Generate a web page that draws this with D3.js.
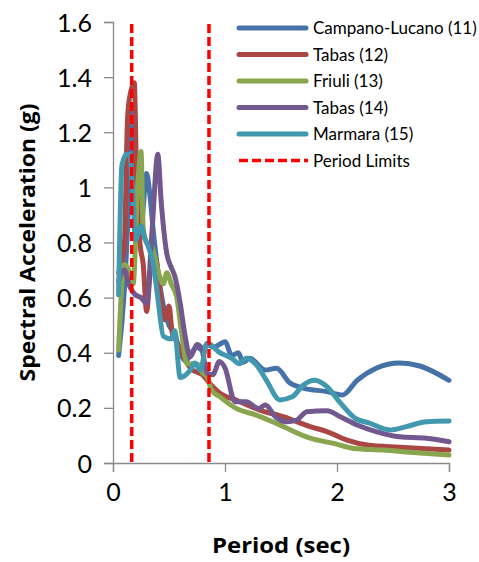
<!DOCTYPE html>
<html>
<head>
<meta charset="utf-8">
<script src="https://cdn.jsdelivr.net/npm/d3@7"></script>
<style>
  html, body { margin: 0; padding: 0; background: #fff; }
  svg { display: block; font-family: Lato, "Open Sans", sans-serif; }
</style>
</head>
<body>
<svg id="chart" width="479" height="562"></svg>
<script>
// Response spectra: [period (s), spectral acceleration (g)]
const campanoLucano11 = [[0.05,0.39],[0.1,0.62],[0.14,0.95],[0.17,1.30],[0.2,0.95],[0.23,0.80],[0.26,0.88],[0.3,1.05],[0.33,0.97],[0.36,0.84],[0.4,0.70],[0.45,0.57],[0.5,0.50],[0.55,0.47],[0.6,0.40],[0.65,0.37],[0.7,0.40],[0.75,0.42],[0.8,0.41],[0.84,0.43],[0.9,0.42],[0.95,0.43],[1.0,0.44],[1.06,0.39],[1.12,0.40],[1.16,0.365],[1.22,0.38],[1.36,0.337],[1.46,0.344],[1.58,0.29],[1.7,0.272],[1.91,0.259],[2.05,0.247],[2.18,0.30],[2.35,0.344],[2.56,0.363],[2.74,0.352],[3.0,0.30]];
const tabas12 = [[0.05,0.69],[0.1,0.78],[0.13,1.25],[0.15,1.33],[0.19,1.38],[0.21,1.05],[0.24,0.80],[0.27,0.72],[0.3,0.55],[0.34,0.72],[0.38,0.74],[0.42,0.62],[0.46,0.52],[0.5,0.57],[0.53,0.47],[0.57,0.44],[0.6,0.41],[0.65,0.37],[0.7,0.34],[0.75,0.33],[0.8,0.32],[0.85,0.295],[0.955,0.253],[1.1,0.228],[1.31,0.192],[1.52,0.168],[1.76,0.132],[1.91,0.114],[2.09,0.083],[2.27,0.065],[2.56,0.057],[3.0,0.047]];
const friuli13 = [[0.05,0.41],[0.1,0.72],[0.14,0.70],[0.18,0.65],[0.22,1.0],[0.25,1.13],[0.27,0.85],[0.3,0.80],[0.35,0.78],[0.4,0.70],[0.45,0.65],[0.48,0.69],[0.52,0.65],[0.57,0.60],[0.61,0.48],[0.66,0.36],[0.75,0.36],[0.8,0.327],[0.84,0.313],[0.88,0.265],[0.955,0.24],[1.1,0.198],[1.28,0.174],[1.49,0.138],[1.76,0.09],[1.97,0.071],[2.15,0.053],[2.41,0.047],[2.71,0.037],[3.0,0.029]];
const tabas14 = [[0.05,0.66],[0.1,0.70],[0.15,0.64],[0.2,0.61],[0.25,0.60],[0.3,0.58],[0.35,0.85],[0.4,1.12],[0.43,0.95],[0.48,0.76],[0.52,0.71],[0.55,0.68],[0.6,0.58],[0.64,0.47],[0.69,0.385],[0.75,0.43],[0.79,0.417],[0.84,0.326],[0.89,0.32],[0.95,0.368],[1.0,0.345],[1.09,0.222],[1.19,0.222],[1.3,0.198],[1.36,0.21],[1.45,0.168],[1.55,0.15],[1.64,0.156],[1.73,0.186],[1.91,0.19],[2.03,0.168],[2.18,0.138],[2.35,0.114],[2.56,0.095],[2.8,0.09],[3.0,0.077]];
const marmara15 = [[0.05,0.61],[0.08,1.08],[0.12,1.12],[0.15,1.12],[0.18,0.95],[0.2,0.81],[0.25,0.86],[0.28,0.82],[0.32,0.78],[0.36,0.72],[0.4,0.60],[0.45,0.46],[0.52,0.45],[0.55,0.48],[0.6,0.31],[0.69,0.337],[0.73,0.363],[0.78,0.337],[0.84,0.435],[0.955,0.40],[1.06,0.38],[1.13,0.36],[1.19,0.38],[1.28,0.356],[1.37,0.30],[1.49,0.229],[1.6,0.24],[1.7,0.283],[1.8,0.30],[1.91,0.277],[2.03,0.218],[2.16,0.163],[2.29,0.145],[2.47,0.12],[2.62,0.132],[2.8,0.15],[3.0,0.152]];
const periodLimits = [0.167, 0.857];

const seriesNames = ["Campano-Lucano (11)", "Tabas (12)", "Friuli (13)", "Tabas (14)", "Marmara (15)"];
const seriesData = [campanoLucano11, tabas12, friuli13, tabas14, marmara15];
const seriesColors = ["#4572A7", "#AA4643", "#89A54E", "#71588F", "#4198AF"];
const limitLabel = "Period Limits";
const xTicks = [0, 1, 2, 3];
const yTicks = [0, 0.2, 0.4, 0.6, 0.8, 1, 1.2, 1.4, 1.6];

const svg = d3.select("#chart");
const plot = { left: 113, right: 449, top: 22, bottom: 463 };

const x = d3.scaleLinear().domain([0, 3]).range([plot.left, plot.right]);
const y = d3.scaleLinear().domain([0, 1.6]).range([plot.bottom, plot.top]);

const axisColor = "#8a8a8a";

// Axes
const gx = svg.append("g")
  .attr("transform", `translate(0,${plot.bottom})`)
  .call(d3.axisBottom(x).tickValues(xTicks).tickSize(9).tickPadding(11).tickFormat(d3.format("d")));
const gy = svg.append("g")
  .attr("transform", `translate(${plot.left},0)`)
  .call(d3.axisLeft(y).tickValues(yTicks).tickSize(9).tickPadding(12).tickFormat(d => d === 0 ? "0" : d3.format("~g")(d)));

[gx, gy].forEach(g => {
  g.select(".domain").attr("stroke", axisColor).attr("stroke-width", 1.3);
  g.selectAll(".tick line").attr("stroke", axisColor).attr("stroke-width", 1.3);
  g.selectAll(".tick text")
    .attr("fill", "#000")
    .style("font-family", "Lato, sans-serif")
    .style("font-size", "25px");
});
gy.selectAll(".tick text").attr("dy", "0.36em");

// Spectra
const line = d3.line()
  .x(d => x(d[0]))
  .y(d => y(d[1]))
  .curve(d3.curveMonotoneX);

svg.append("g")
  .selectAll("path")
  .data(seriesData)
  .join("path")
  .attr("d", line)
  .attr("fill", "none")
  .attr("stroke", (d, i) => seriesColors[i])
  .attr("stroke-width", 5)
  .attr("stroke-linejoin", "round")
  .attr("stroke-linecap", "round");

// Period limit markers
svg.append("g")
  .selectAll("line")
  .data(periodLimits)
  .join("line")
  .attr("x1", d => x(d)).attr("x2", d => x(d))
  .attr("y1", y(1.6) + 2).attr("y2", y(0))
  .attr("stroke", "#FF0000")
  .attr("stroke-width", 3.5)
  .attr("stroke-dasharray", "9,4");

// Legend
const legend = svg.append("g").attr("transform", "translate(237,28)");
const rowH = 26.5;
const legendItems = seriesNames.map((n, i) => ({ name: n, color: seriesColors[i], dash: null }))
  .concat([{ name: limitLabel, color: "#FF0000", dash: "9,4" }]);

const rows = legend.selectAll("g")
  .data(legendItems)
  .join("g")
  .attr("transform", (d, i) => `translate(0,${i * rowH})`);

rows.append("line")
  .attr("x1", 2).attr("x2", d => d.dash ? 71 : 69)
  .attr("y1", 0).attr("y2", 0)
  .attr("stroke", d => d.color)
  .attr("stroke-width", d => d.dash ? 3.5 : 5)
  .attr("stroke-linecap", d => d.dash ? "butt" : "round")
  .attr("stroke-dasharray", d => d.dash);

rows.append("text")
  .attr("x", 76)
  .attr("y", 0)
  .attr("dy", "0.36em")
  .style("font-size", "17px")
  .attr("fill", "#000")
  .text(d => d.name);

// Axis titles
svg.append("text")
  .attr("x", (plot.left + plot.right) / 2)
  .attr("y", 553)
  .attr("text-anchor", "middle")
  .style("font-family", "'Open Sans', sans-serif")
  .style("font-size", "22px")
  .style("font-weight", "bold")
  .attr("textLength", 138)
  .attr("lengthAdjust", "spacingAndGlyphs")
  .text("Period (sec)");

svg.append("text")
  .attr("transform", `translate(35,${(plot.top + plot.bottom) / 2}) rotate(-90)`)
  .attr("text-anchor", "middle")
  .style("font-family", "'Open Sans', sans-serif")
  .style("font-size", "21px")
  .style("font-weight", "bold")
  .attr("textLength", 278)
  .attr("lengthAdjust", "spacingAndGlyphs")
  .text("Spectral Acceleration (g)");
</script>
</body>
</html>
